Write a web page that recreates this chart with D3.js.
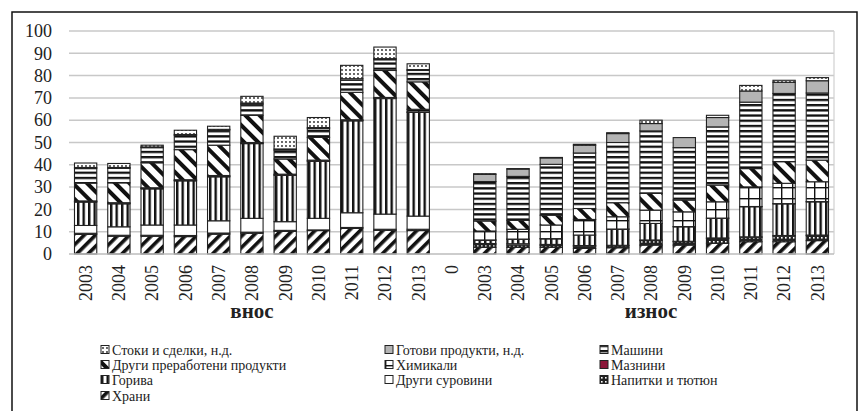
<!DOCTYPE html>
<html><head><meta charset="utf-8">
<script src="https://cdn.jsdelivr.net/npm/d3@7"></script>
<style>body{margin:0;background:#fff}svg{display:block}</style>
</head><body><svg id="c" width="861" height="411"></svg>
<script>
// ---- data ----
const yearLabels = ["2003","2004","2005","2006","2007","2008","2009","2010","2011","2012","2013","0",
                    "2003","2004","2005","2006","2007","2008","2009","2010","2011","2012","2013"];
const groupLabels = ["внос","износ"];
const yTicks = [0,10,20,30,40,50,60,70,80,90,100];
const seriesNames = ["Храни","Напитки и тютюн","Други суровини","Горива","Мазнини","Химикали",
                     "Други преработени продукти","Машини","Готови продукти, н.д.","Стоки и сделки, н.д."];
const food       = [8.8,8.0,8.0,7.8,8.9,9.3,10.2,10.5,11.5,10.6,10.5, 0, 3.0,3.0,3.0,2.5,2.8,4.0,4.0,4.8,5.5,5.5,6.0];
const beverages  = [0.5,0.4,0.4,0.5,0.5,0.5,0.4,0.3,0.4,0.5,0.6, 0, 1.2,1.0,0.8,1.0,0.8,2.0,1.5,2.2,2.0,2.5,2.2];
const rawOther   = [3.5,3.8,4.6,4.7,5.5,6.2,3.9,5.2,6.6,6.8,5.9, 0, 0.5,0.6,0.5,0.3,0.3,0.3,0.2,0.2,0.2,0.3,0.3];
const fuels      = [10.5,10.3,16.2,19.8,19.7,33.5,20.8,25.6,41.2,51.8,46.5, 0, 1.5,2.0,2.5,4.7,7.2,7.4,6.5,8.8,13.5,14.2,14.9];
const fats       = [0.2,0.2,0.2,0.2,0.2,0.2,0.2,0.2,0.2,0.2,0.2, 0, 0.1,0.1,0.1,0.0,0.1,0.0,0.1,0.1,0.1,0.1,0.1];
const chemicals  = [0.3,0.3,0.3,0.3,0.4,0.3,0.3,0.3,0.3,0.3,1.2, 0, 4.0,4.4,6.1,7.0,5.5,6.0,6.6,7.3,8.8,9.1,8.9];
const otherManuf = [8.0,8.9,11.2,13.5,13.6,12.2,6.8,10.2,12.3,12.1,12.3, 0, 4.5,4.0,4.4,4.9,6.3,7.5,5.3,7.5,8.2,9.7,9.7];
const machinery  = [6.5,6.5,6.8,6.4,6.8,5.0,4.0,3.9,5.4,4.8,5.1, 0, 17.7,19.7,22.8,24.9,27.0,28.0,23.5,26.1,29.8,30.6,30.1];
const finished   = [0.5,0.4,0.3,0.4,0.3,0.5,0.5,0.5,0.7,0.5,0.4, 0, 3.2,3.3,2.9,3.5,4.0,3.3,4.5,4.2,5.0,5.0,5.5];
const goodsNd    = [2.0,1.8,0.8,1.9,1.4,3.0,5.7,4.5,6.0,5.2,2.6, 0, 0.3,0.2,0.2,0.4,0.4,1.5,0.0,1.0,2.5,0.9,1.4];
const seriesValues = [food,beverages,rawOther,fuels,fats,chemicals,otherManuf,machinery,finished,goodsNd];
const legendOrder = [9,8,7,6,5,4,3,2,1,0];

// ---- build ----
const svg = d3.select("#c");
const defs = svg.append("defs");
function pat(id, w, h, draw, rot){
  const p = defs.append("pattern").attr("id",id).attr("patternUnits","userSpaceOnUse")
    .attr("width",w).attr("height",h);
  if(rot) p.attr("patternTransform","rotate("+rot+")");
  p.append("rect").attr("width",w).attr("height",h).attr("fill","#fff");
  draw(p);
}
pat("p0",8,8,p=>p.append("rect").attr("x",0).attr("y",0).attr("width",3.6).attr("height",8).attr("fill","#111"),45);
pat("p1",4,4,p=>{p.select("rect").attr("fill","#222");p.append("rect").attr("x",1).attr("y",1).attr("width",1.6).attr("height",1.6).attr("fill","#fff");});
pat("p2",10,10,p=>{});
pat("p3",5.5,5,p=>p.append("rect").attr("x",0).attr("y",0).attr("width",2.4).attr("height",5).attr("fill","#111"));
pat("p4",4,4,p=>p.select("rect").attr("fill","#8b1538"));
pat("p5",11,11,p=>{p.append("rect").attr("x",0).attr("y",0).attr("width",11).attr("height",1.4).attr("fill","#111");
                    p.append("rect").attr("x",0).attr("y",0).attr("width",1.4).attr("height",11).attr("fill","#111");});
pat("p6",10,10,p=>p.append("rect").attr("x",0).attr("y",0).attr("width",4).attr("height",10).attr("fill","#111"),-45);
pat("p7",5,5.2,p=>p.append("rect").attr("x",0).attr("y",0).attr("width",5).attr("height",2.3).attr("fill","#111"));
pat("p8",4,4,p=>p.select("rect").attr("fill","#b4b4b4"));
pat("p9",4,4,p=>p.append("circle").attr("cx",2).attr("cy",2).attr("r",0.9).attr("fill","#222"));

const M = {left:69, right:834, top:31, bottom:254};
const x = d3.scaleBand().domain(d3.range(yearLabels.length)).range([M.left,M.right]).paddingInner(0.33).paddingOuter(0.165);
const y = d3.scaleLinear().domain([0,100]).range([M.bottom,M.top]);

// frame
svg.append("path").attr("d","M12,430V12H857V430").attr("fill","none").attr("stroke","#111").attr("stroke-width",1.5);

// grid
svg.append("g").selectAll("line").data(yTicks.slice(1)).join("line")
  .attr("x1",M.left).attr("x2",M.right).attr("y1",d=>y(d)).attr("y2",d=>y(d))
  .attr("stroke","#c8c8c8").attr("stroke-width",1.5);
svg.append("line").attr("x1",M.right).attr("x2",M.right).attr("y1",M.top).attr("y2",M.bottom)
  .attr("stroke","#d0d0d0").attr("stroke-width",1.2);

// y axis
const yAxis = svg.append("g").attr("transform",`translate(${M.left},0)`)
  .call(d3.axisLeft(y).tickValues(yTicks).tickSize(0).tickPadding(17));
yAxis.select(".domain").remove();
yAxis.selectAll("text").attr("font-family","'Liberation Serif','Times New Roman',serif").attr("font-size",18).attr("fill","#222");

// stacked bars
const rows = d3.range(yearLabels.length).map(i=>{const o={i}; seriesValues.forEach((s,k)=>o["s"+k]=s[i]); return o;});
const stack = d3.stack().keys(seriesValues.map((s,k)=>"s"+k))(rows);
svg.append("g").selectAll("g").data(stack).join("g")
  .attr("fill",(d,k)=>`url(#p${k})`)
  .selectAll("rect").data(d=>d.filter(e=>e[1]-e[0]>0)).join("rect")
  .attr("x",d=>x(d.data.i)).attr("width",x.bandwidth())
  .attr("y",d=>y(d[1])).attr("height",d=>y(d[0])-y(d[1]))
  .attr("stroke","#222").attr("stroke-width",1.1);

// x axis line
svg.append("line").attr("x1",M.left).attr("x2",M.right).attr("y1",M.bottom).attr("y2",M.bottom)
  .attr("stroke","#bdbdbd").attr("stroke-width",1.5);
const xAxis = svg.append("g").attr("transform",`translate(0,${M.bottom})`)
  .call(d3.axisBottom(x).tickFormat(i=>yearLabels[i]).tickSize(0));
xAxis.select(".domain").remove();
xAxis.selectAll("text").attr("font-family","'Liberation Serif','Times New Roman',serif").attr("font-size",18).attr("fill","#222")
  .attr("transform","rotate(-90)").attr("text-anchor","end").attr("x",-11).attr("y",0).attr("dy","0.35em");

// group labels
const gx = [d3.mean([x(0),x(10)])+x.bandwidth()/2, d3.mean([x(12),x(22)])+x.bandwidth()/2];
svg.append("g").selectAll("text").data(groupLabels).join("text")
  .attr("x",(d,i)=>gx[i]).attr("y",318).attr("text-anchor","middle")
  .attr("font-family","'Liberation Serif','Times New Roman',serif").attr("font-weight","bold").attr("font-size",21).attr("fill","#222")
  .text(d=>d);

// legend
const colX = [101,385,600], rowY = [350,365,380,396];
const lg = svg.append("g").selectAll("g").data(legendOrder).join("g")
  .attr("transform",(k,j)=>`translate(${colX[j%3]},${rowY[Math.floor(j/3)]})`);
lg.append("rect").attr("x",0).attr("y",-4.5).attr("width",8).attr("height",8)
  .attr("fill",k=>`url(#p${k})`).attr("stroke","#222").attr("stroke-width",1);
lg.append("text").attr("x",11).attr("y",0).attr("dy","0.35em")
  .attr("font-family","'Liberation Serif','Times New Roman',serif").attr("font-size",14).attr("fill","#222")
  .text(k=>seriesNames[k]);
</script></body></html>
